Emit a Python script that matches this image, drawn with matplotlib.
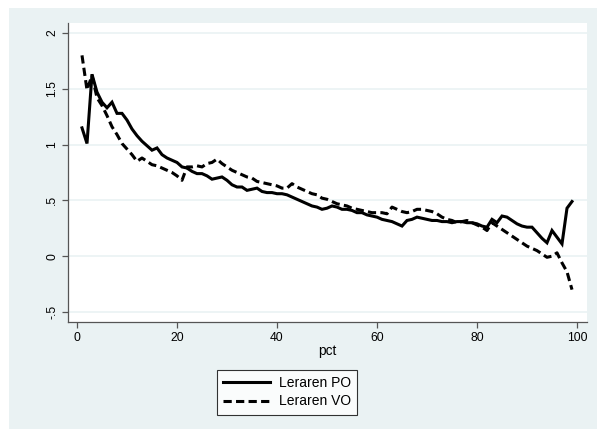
import matplotlib
matplotlib.use("Agg")
import matplotlib.pyplot as plt
from matplotlib.patches import Rectangle

# ── Data ─────────────────────────────────────────────────────
pct = list(range(1, 100))

leraren_po = [
    1.15, 1.01, 1.63, 1.47, 1.38, 1.33, 1.38, 1.28, 1.28, 1.22,
    1.14, 1.08, 1.03, 0.99, 0.95, 0.97, 0.91, 0.88, 0.86, 0.84,
    0.80, 0.79, 0.76, 0.74, 0.74, 0.72, 0.69, 0.70, 0.71, 0.68,
    0.64, 0.62, 0.62, 0.59, 0.60, 0.61, 0.58, 0.57, 0.57, 0.56,
    0.56, 0.55, 0.53, 0.51, 0.49, 0.47, 0.45, 0.44, 0.42, 0.43,
    0.45, 0.44, 0.42, 0.42, 0.41, 0.39, 0.39, 0.37, 0.36, 0.35,
    0.33, 0.32, 0.31, 0.29, 0.27, 0.32, 0.33, 0.35, 0.34, 0.33,
    0.32, 0.32, 0.31, 0.31, 0.30, 0.31, 0.31, 0.30, 0.30, 0.29,
    0.27, 0.26, 0.33, 0.30, 0.36, 0.35, 0.32, 0.29, 0.27, 0.26,
    0.26, 0.21, 0.16, 0.12, 0.23, 0.17, 0.11, 0.43, 0.49,
]

leraren_vo = [
    1.80, 1.49, 1.62, 1.42, 1.35, 1.26, 1.16, 1.09, 1.01, 0.96,
    0.91, 0.85, 0.88, 0.85, 0.82, 0.81, 0.79, 0.77, 0.75, 0.72,
    0.68, 0.80, 0.80, 0.81, 0.80, 0.83, 0.84, 0.87, 0.83, 0.80,
    0.77, 0.75, 0.73, 0.71, 0.70, 0.67, 0.66, 0.65, 0.64, 0.63,
    0.61, 0.61, 0.65, 0.62, 0.60, 0.58, 0.56, 0.55, 0.52, 0.51,
    0.49, 0.47, 0.46, 0.45, 0.43, 0.42, 0.41, 0.40, 0.39, 0.39,
    0.39, 0.38, 0.44, 0.42, 0.40, 0.39, 0.40, 0.42, 0.42, 0.41,
    0.40, 0.38, 0.35, 0.33, 0.32, 0.30, 0.31, 0.32, 0.30, 0.28,
    0.26, 0.23, 0.30, 0.27, 0.24, 0.21, 0.18, 0.15, 0.12, 0.09,
    0.07, 0.05, 0.02, -0.01, 0.00, 0.03, -0.06, -0.14, -0.30,
]

x_ticks = [0, 20, 40, 60, 80, 100]
y_ticks = [-0.5, 0, 0.5, 1, 1.5, 2]
y_tick_labels = ["-.5", "0", ".5", "1", "1.5", "2"]

# ── Style ────────────────────────────────────────────────────
BG_OUTER = "#EAF2F3"
GRID = "#EAF2F3"
AXIS = "#555555"
FONT = "Liberation Sans"
plt.rcParams.update({"font.family": FONT, "font.size": 9})

W, H = 597, 436
fig = plt.figure(figsize=(W / 100, H / 100), dpi=100)
fig.patch.set_facecolor("white")

# light graph region behind everything
fig.patches.append(Rectangle((9 / W, 1 - 429 / H), (W - 9) / W, (429 - 8) / H,
                             transform=fig.transFigure, fc=BG_OUTER, ec="none",
                             zorder=-10))

ax = fig.add_axes([68 / W, 1 - 322 / H, (587 - 68) / W, (322 - 23) / H])
ax.set_zorder(1)
ax.set_facecolor("white")

ax.plot(pct, leraren_po, color="black", lw=2.2, solid_joinstyle="miter",
        label="Leraren PO", zorder=3)
ax.plot(pct, leraren_vo, color="black", lw=2.2, dashes=(2.7, 1.4),
        label="Leraren VO", zorder=3)

ax.set_xlim(-1.8, 102)
ax.set_ylim(-0.59, 2.09)
ax.set_xticks(x_ticks)
ax.set_yticks(y_ticks)
ax.set_yticklabels(y_tick_labels, rotation=90, va="center")
ax.grid(axis="y", color=GRID, lw=1.2, zorder=0)
ax.set_axisbelow(True)

for s in ("top", "right"):
    ax.spines[s].set_visible(False)
for s in ("left", "bottom"):
    ax.spines[s].set_color(AXIS)
    ax.spines[s].set_linewidth(0.9)
ax.tick_params(direction="out", length=4, width=0.9, color=AXIS,
               labelcolor="black", labelsize=8.7, pad=3)

ax.set_xlabel("pct", fontsize=9.8, labelpad=0)

leg = fig.legend(loc="upper left", bbox_to_anchor=(217 / W, 1 - 370 / H),
                 ncol=1, frameon=True, fancybox=False, edgecolor="black",
                 handlelength=3.4, handletextpad=0.6, borderpad=0.45,
                 labelspacing=0.3, borderaxespad=0, fontsize=10)
leg.get_frame().set_linewidth(0.8)

fig.savefig("out.png", dpi=100, facecolor=fig.get_facecolor())
